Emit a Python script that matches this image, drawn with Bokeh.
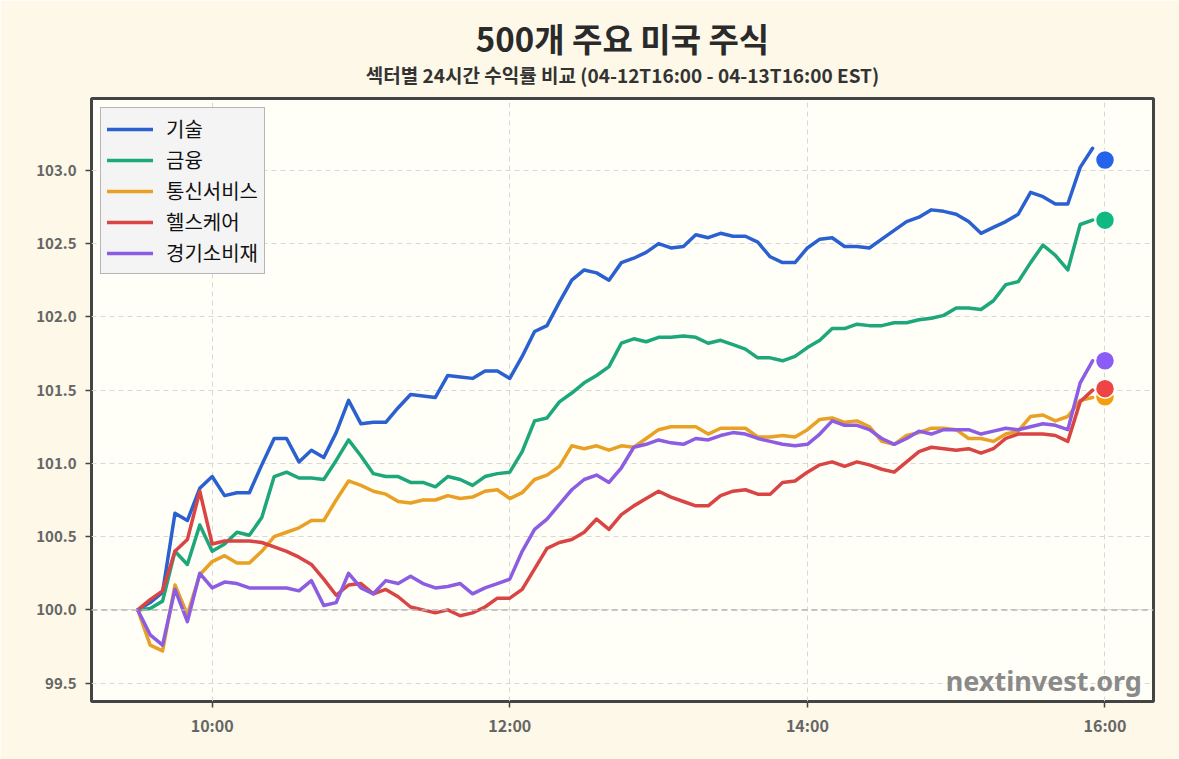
from bokeh.plotting import figure
from bokeh.models import (FixedTicker, NumeralTickFormatter, Span, Label, Title,
                          Legend, LegendItem)
from bokeh.embed import file_html
from bokeh.resources import INLINE

# ---------------- data ----------------
# 5-minute samples from 09:30 to 15:55 (hours as decimals)
times = [9.5 + i * 5 / 60 for i in range(78)]

tech = [100.00, 100.05, 100.12, 100.66, 100.61, 100.83, 100.91, 100.78, 100.80, 100.80,
        100.99, 101.17, 101.17, 101.01, 101.09, 101.04, 101.21, 101.43, 101.27, 101.28,
        101.28, 101.38, 101.47, 101.46, 101.45, 101.60, 101.59, 101.58, 101.63, 101.63,
        101.58, 101.73, 101.90, 101.94, 102.10, 102.25, 102.32, 102.30, 102.25, 102.37,
        102.40, 102.44, 102.50, 102.47, 102.48, 102.56, 102.54, 102.57, 102.55, 102.55,
        102.51, 102.41, 102.37, 102.37, 102.47, 102.53, 102.54, 102.48, 102.48, 102.47,
        102.53, 102.59, 102.65, 102.68, 102.73, 102.72, 102.70, 102.65, 102.57, 102.61,
        102.65, 102.70, 102.85, 102.82, 102.77, 102.77, 103.02, 103.15]

fin = [100.00, 100.01, 100.06, 100.40, 100.31, 100.58, 100.40, 100.45, 100.53, 100.51,
       100.63, 100.91, 100.94, 100.90, 100.90, 100.89, 101.02, 101.16, 101.05, 100.93,
       100.91, 100.91, 100.87, 100.87, 100.84, 100.91, 100.89, 100.85, 100.91, 100.93,
       100.94, 101.08, 101.29, 101.31, 101.42, 101.48, 101.55, 101.60, 101.66, 101.82,
       101.85, 101.83, 101.86, 101.86, 101.87, 101.86, 101.82, 101.84, 101.81, 101.78,
       101.72, 101.72, 101.70, 101.73, 101.79, 101.84, 101.92, 101.92, 101.95, 101.94,
       101.94, 101.96, 101.96, 101.98, 101.99, 102.01, 102.06, 102.06, 102.05, 102.11,
       102.22, 102.24, 102.37, 102.49, 102.42, 102.32, 102.63, 102.66]

comm = [100.00, 99.76, 99.72, 100.17, 99.97, 100.24, 100.33, 100.37, 100.32, 100.32,
        100.40, 100.50, 100.53, 100.56, 100.61, 100.61, 100.75, 100.88, 100.85, 100.81,
        100.79, 100.74, 100.73, 100.75, 100.75, 100.78, 100.76, 100.77, 100.81, 100.82,
        100.76, 100.80, 100.89, 100.92, 100.98, 101.12, 101.10, 101.12, 101.09, 101.12,
        101.11, 101.17, 101.23, 101.25, 101.25, 101.25, 101.20, 101.24, 101.24, 101.24,
        101.18, 101.18, 101.19, 101.18, 101.23, 101.30, 101.31, 101.28, 101.29, 101.25,
        101.15, 101.13, 101.19, 101.21, 101.24, 101.24, 101.23, 101.17, 101.17, 101.15,
        101.20, 101.22, 101.32, 101.33, 101.29, 101.32, 101.43, 101.45]

health = [100.00, 100.07, 100.13, 100.40, 100.48, 100.81, 100.45, 100.47, 100.47, 100.47,
          100.46, 100.43, 100.40, 100.36, 100.31, 100.21, 100.10, 100.17, 100.18, 100.11,
          100.14, 100.09, 100.02, 100.00, 99.98, 100.00, 99.96, 99.98, 100.02, 100.08,
          100.08, 100.14, 100.28, 100.42, 100.46, 100.48, 100.53, 100.62, 100.55, 100.65,
          100.71, 100.76, 100.81, 100.77, 100.74, 100.71, 100.71, 100.78, 100.81, 100.82,
          100.79, 100.79, 100.87, 100.88, 100.94, 100.99, 101.01, 100.98, 101.01, 100.99,
          100.96, 100.94, 101.01, 101.08, 101.11, 101.10, 101.09, 101.10, 101.07, 101.10,
          101.17, 101.20, 101.20, 101.20, 101.19, 101.15, 101.42, 101.50]

cons = [100.00, 99.83, 99.76, 100.14, 99.92, 100.25, 100.15, 100.19, 100.18, 100.15,
        100.15, 100.15, 100.15, 100.13, 100.20, 100.03, 100.05, 100.25, 100.15, 100.11,
        100.20, 100.18, 100.23, 100.18, 100.15, 100.16, 100.18, 100.11, 100.15, 100.18,
        100.21, 100.40, 100.55, 100.62, 100.72, 100.82, 100.89, 100.92, 100.87, 100.97,
        101.11, 101.13, 101.16, 101.14, 101.13, 101.17, 101.16, 101.19, 101.21, 101.20,
        101.17, 101.15, 101.13, 101.12, 101.13, 101.20, 101.29, 101.26, 101.26, 101.23,
        101.17, 101.13, 101.17, 101.22, 101.20, 101.23, 101.23, 101.23, 101.20, 101.22,
        101.24, 101.23, 101.25, 101.27, 101.26, 101.23, 101.55, 101.70]

sector_names = ["기술", "금융", "통신서비스", "헬스케어", "경기소비재"]
series = [tech, fin, comm, health, cons]
final_time = 16.0
final_values = [103.07, 102.66, 101.455, 101.51, 101.70]

line_colors = ["#2b60d0", "#1ea77b", "#e8a025", "#d94444", "#8c5ce3"]
dot_colors = ["#2563eb", "#10b981", "#f59e0b", "#ef4444", "#8b5cf6"]

x_ticks = [10, 12, 14, 16]
x_tick_labels = ["10:00", "12:00", "14:00", "16:00"]
y_ticks = [99.5, 100.0, 100.5, 101.0, 101.5, 102.0, 102.5, 103.0]

title_text = "500개 주요 미국 주식"
subtitle_text = "섹터별 24시간 수익률 비교 (04-12T16:00 - 04-13T16:00 EST)"
watermark = "nextinvest.org"

FONT = "Noto Sans CJK KR"

# ---------------- figure ----------------
p = figure(width=1179, height=759, x_range=(9.189, 16.326), y_range=(99.375, 103.49),
           output_backend="svg", toolbar_location=None, title=None,
           min_border_left=91, min_border_right=26, min_border_top=98, min_border_bottom=58)

p.background_fill_color = "#fffef7"
p.border_fill_color = "#fdf8e7"
p.outline_line_color = "#444444"
p.outline_line_width = 3

p.add_layout(Title(text=subtitle_text, align="center", text_font=FONT,
                   text_font_size="19px", text_font_style="bold", text_color="#333333",
                   standoff=21), "above")
p.add_layout(Title(text=title_text, align="center", text_font=FONT,
                   text_font_size="33px", text_font_style="bold", text_color="#2a2a2a",
                   standoff=-27), "above")

# grid
for g in (p.xgrid, p.ygrid):
    g.grid_line_color = "#d8d8d8"
    g.grid_line_dash = "5 4"
    g.grid_line_width = 1

# axes
p.xaxis.ticker = FixedTicker(ticks=x_ticks)
p.xaxis.major_label_overrides = {t: l for t, l in zip(x_ticks, x_tick_labels)}
p.yaxis.ticker = FixedTicker(ticks=y_ticks)
p.yaxis.formatter = NumeralTickFormatter(format="0.0")
for ax in (p.xaxis, p.yaxis):
    ax.axis_line_color = None
    ax.minor_tick_line_color = None
    ax.major_tick_in = 0
    ax.major_tick_out = 6
    ax.major_tick_line_color = "#444444"
    ax.major_tick_line_width = 1.5
    ax.major_label_text_font = FONT
    ax.major_label_text_font_size = "15px"
    ax.major_label_text_font_style = "bold"
    ax.major_label_text_color = "#666666"
p.xaxis.major_label_text_font_size = "16px"
p.xaxis.major_label_standoff = 5
p.yaxis.major_label_standoff = 9

# baseline at 100
p.add_layout(Span(location=100, dimension="width", line_color="#b5b5b5",
                  line_dash="6 4", line_width=1.5))

# lines
items = []
for name, vals, lc in zip(sector_names, series, line_colors):
    r = p.line(times, vals, line_color=lc, line_width=3.5, line_join="round", line_cap="round")
    items.append(LegendItem(label=name, renderers=[r]))

# end-point dots
for v, dc in zip(final_values, dot_colors):
    p.scatter([final_time], [v], size=19, fill_color=dc, line_color="#ffffff", line_width=1.5)

legend = Legend(items=items, location="top_left")
legend.label_text_font = FONT
legend.label_text_font_size = "20px"
legend.label_text_color = "#111111"
legend.glyph_width = 46
legend.glyph_height = 20
legend.label_height = 20
legend.spacing = 2
legend.padding = 6
legend.margin = 9
legend.label_standoff = 13
legend.background_fill_color = "#f4f4f4"
legend.background_fill_alpha = 1
legend.border_line_color = "#777777"
legend.border_line_width = 1.2
p.add_layout(legend, "center")

p.add_layout(Label(x=16.248, y=99.52, text=watermark, text_align="right",
                   text_baseline="alphabetic", text_font="Noto Sans",
                   text_font_size="27px", text_font_style="bold", text_color="#8a8a8a"))

open("out.html", "w").write(file_html(p, INLINE))
